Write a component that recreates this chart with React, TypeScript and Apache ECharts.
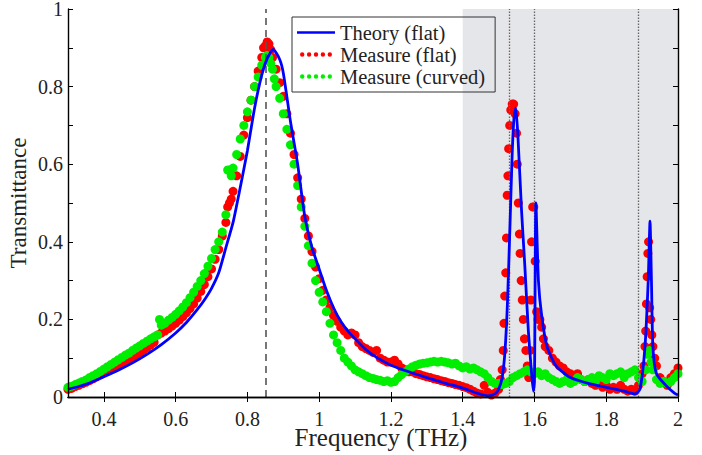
import React, { useEffect, useRef } from "react";
import * as echarts from "echarts";

const FONT = "Liberation Serif";

const xTickValues = [0.4, 0.6, 0.8, 1.0, 1.2, 1.4, 1.6, 1.8, 2.0];

const theoryData: [number, number][] = [
  [0.30, 0.020], [0.33, 0.027], [0.36, 0.036], [0.40, 0.052], [0.44, 0.069], [0.48, 0.088],
  [0.52, 0.110], [0.56, 0.135], [0.60, 0.165], [0.63, 0.192], [0.66, 0.225], [0.68, 0.250],
  [0.70, 0.280], [0.72, 0.320], [0.74, 0.385], [0.76, 0.450], [0.78, 0.540], [0.80, 0.635],
  [0.82, 0.745], [0.84, 0.830], [0.855, 0.872], [0.872, 0.896], [0.89, 0.870], [0.90, 0.835],
  [0.92, 0.710], [0.94, 0.600], [0.96, 0.465], [0.98, 0.385], [1.00, 0.330], [1.02, 0.275],
  [1.04, 0.230], [1.06, 0.195], [1.08, 0.170], [1.10, 0.150], [1.13, 0.122], [1.16, 0.102],
  [1.20, 0.082], [1.25, 0.065], [1.30, 0.050], [1.35, 0.036], [1.40, 0.023], [1.44, 0.010],
  [1.47, 0.003], [1.49, 0.008], [1.50, 0.020], [1.51, 0.050], [1.518, 0.120], [1.525, 0.250],
  [1.532, 0.450], [1.538, 0.630], [1.543, 0.720], [1.548, 0.745], [1.554, 0.670], [1.564, 0.480],
  [1.573, 0.340], [1.583, 0.170], [1.592, 0.060], [1.597, 0.015], [1.600, 0.040], [1.604, 0.500],
  [1.611, 0.300], [1.620, 0.210], [1.635, 0.130], [1.660, 0.080], [1.700, 0.050], [1.750, 0.035],
  [1.800, 0.025], [1.850, 0.015], [1.880, 0.008], [1.894, 0.020], [1.908, 0.130], [1.917, 0.300],
  [1.922, 0.453], [1.926, 0.300], [1.930, 0.130], [1.940, 0.060], [1.966, 0.030], [1.990, 0.010],
  [2.000, 0.005]
];

const measureFlatData: [number, number][] = [
  [0.30, 0.020], [0.31, 0.022], [0.32, 0.027], [0.33, 0.030], [0.34, 0.034], [0.35, 0.038],
  [0.36, 0.042], [0.37, 0.047], [0.38, 0.052], [0.39, 0.057], [0.40, 0.062], [0.41, 0.066],
  [0.42, 0.071], [0.43, 0.076], [0.44, 0.081], [0.45, 0.087], [0.46, 0.092], [0.47, 0.097],
  [0.48, 0.102], [0.49, 0.108], [0.50, 0.114], [0.51, 0.120], [0.52, 0.127], [0.53, 0.134],
  [0.54, 0.141], [0.55, 0.160], [0.56, 0.165], [0.57, 0.170], [0.58, 0.176], [0.59, 0.183],
  [0.60, 0.190], [0.61, 0.198], [0.62, 0.207], [0.63, 0.217], [0.64, 0.228], [0.65, 0.240],
  [0.66, 0.255], [0.67, 0.272], [0.68, 0.290], [0.69, 0.310], [0.70, 0.330], [0.71, 0.355],
  [0.72, 0.380], [0.73, 0.415], [0.74, 0.450], [0.745, 0.490], [0.75, 0.500], [0.755, 0.510],
  [0.76, 0.530], [0.77, 0.570], [0.78, 0.620], [0.79, 0.675], [0.80, 0.720], [0.81, 0.765],
  [0.82, 0.800], [0.83, 0.840], [0.84, 0.875], [0.845, 0.900], [0.85, 0.905], [0.855, 0.915],
  [0.86, 0.910], [0.865, 0.895], [0.87, 0.875], [0.88, 0.845], [0.89, 0.810], [0.90, 0.775],
  [0.91, 0.730], [0.92, 0.680], [0.93, 0.625], [0.94, 0.565], [0.95, 0.510], [0.96, 0.460],
  [0.97, 0.415], [0.98, 0.375], [0.99, 0.335], [1.00, 0.305], [1.01, 0.275], [1.02, 0.250],
  [1.03, 0.230], [1.04, 0.210], [1.05, 0.195], [1.06, 0.180], [1.07, 0.170], [1.08, 0.160],
  [1.09, 0.165], [1.10, 0.160], [1.11, 0.140], [1.12, 0.130], [1.13, 0.125], [1.14, 0.120],
  [1.15, 0.115], [1.16, 0.120], [1.17, 0.100], [1.18, 0.095], [1.19, 0.090], [1.20, 0.090],
  [1.21, 0.095], [1.22, 0.085], [1.23, 0.075], [1.24, 0.070], [1.25, 0.065], [1.26, 0.065],
  [1.27, 0.060], [1.28, 0.058], [1.29, 0.055], [1.30, 0.052], [1.31, 0.050], [1.32, 0.047],
  [1.33, 0.045], [1.34, 0.042], [1.35, 0.040], [1.36, 0.037], [1.37, 0.035], [1.38, 0.032],
  [1.39, 0.030], [1.40, 0.027], [1.41, 0.024], [1.42, 0.020], [1.43, 0.015], [1.44, 0.010],
  [1.45, 0.008], [1.46, 0.030], [1.47, 0.012], [1.48, 0.005], [1.49, 0.010], [1.50, 0.020],
  [1.505, 0.045], [1.51, 0.070], [1.513, 0.120], [1.515, 0.190], [1.517, 0.260], [1.52, 0.320],
  [1.522, 0.410], [1.524, 0.520], [1.526, 0.570], [1.528, 0.640], [1.531, 0.700], [1.534, 0.740],
  [1.538, 0.755], [1.542, 0.755], [1.546, 0.730], [1.55, 0.680], [1.552, 0.600], [1.555, 0.500],
  [1.558, 0.420], [1.56, 0.370], [1.563, 0.300], [1.566, 0.250], [1.569, 0.200], [1.572, 0.150],
  [1.576, 0.120], [1.58, 0.080], [1.584, 0.050], [1.588, 0.120], [1.59, 0.250], [1.592, 0.400],
  [1.595, 0.490], [1.598, 0.490], [1.602, 0.350], [1.606, 0.220], [1.61, 0.200], [1.615, 0.200],
  [1.62, 0.180], [1.625, 0.150], [1.63, 0.130], [1.64, 0.120], [1.65, 0.100], [1.66, 0.090],
  [1.67, 0.080], [1.68, 0.075], [1.69, 0.065], [1.70, 0.060], [1.71, 0.055], [1.72, 0.060],
  [1.73, 0.045], [1.74, 0.040], [1.75, 0.045], [1.76, 0.035], [1.77, 0.030], [1.78, 0.035],
  [1.79, 0.025], [1.80, 0.030], [1.81, 0.020], [1.82, 0.025], [1.83, 0.020], [1.84, 0.030],
  [1.85, 0.020], [1.86, 0.015], [1.87, 0.020], [1.88, 0.015], [1.89, 0.030], [1.90, 0.060],
  [1.905, 0.080], [1.908, 0.130], [1.91, 0.170], [1.912, 0.240], [1.914, 0.310], [1.916, 0.370],
  [1.918, 0.400], [1.921, 0.230], [1.924, 0.200], [1.927, 0.160], [1.93, 0.130], [1.935, 0.100],
  [1.94, 0.080], [1.95, 0.050], [1.96, 0.040], [1.97, 0.030], [1.98, 0.050], [1.99, 0.060],
  [2.00, 0.075]
];

const measureCurvedData: [number, number][] = [
  [0.30, 0.025], [0.31, 0.028], [0.32, 0.032], [0.33, 0.036], [0.34, 0.040], [0.35, 0.044],
  [0.36, 0.050], [0.37, 0.055], [0.38, 0.060], [0.39, 0.066], [0.40, 0.072], [0.41, 0.078],
  [0.42, 0.084], [0.43, 0.090], [0.44, 0.096], [0.45, 0.102], [0.46, 0.108], [0.47, 0.113],
  [0.48, 0.120], [0.49, 0.126], [0.50, 0.132], [0.51, 0.138], [0.52, 0.144], [0.53, 0.150],
  [0.54, 0.155], [0.55, 0.160], [0.555, 0.200], [0.56, 0.185], [0.57, 0.190], [0.58, 0.198],
  [0.59, 0.205], [0.60, 0.213], [0.61, 0.222], [0.62, 0.232], [0.63, 0.243], [0.64, 0.256],
  [0.65, 0.270], [0.66, 0.285], [0.67, 0.300], [0.68, 0.318], [0.69, 0.337], [0.70, 0.357],
  [0.71, 0.380], [0.72, 0.400], [0.73, 0.425], [0.74, 0.470], [0.745, 0.585], [0.75, 0.585],
  [0.755, 0.570], [0.76, 0.590], [0.77, 0.625], [0.78, 0.665], [0.79, 0.700], [0.80, 0.735],
  [0.81, 0.765], [0.82, 0.800], [0.83, 0.825], [0.84, 0.855], [0.85, 0.875], [0.855, 0.880],
  [0.86, 0.875], [0.865, 0.860], [0.87, 0.845], [0.875, 0.820], [0.88, 0.800], [0.89, 0.770],
  [0.90, 0.730], [0.91, 0.690], [0.92, 0.650], [0.93, 0.600], [0.94, 0.545], [0.95, 0.490],
  [0.96, 0.440], [0.97, 0.390], [0.98, 0.345], [0.99, 0.300], [1.00, 0.270], [1.01, 0.245],
  [1.02, 0.220], [1.03, 0.190], [1.04, 0.160], [1.05, 0.140], [1.06, 0.120], [1.07, 0.100],
  [1.08, 0.090], [1.09, 0.080], [1.10, 0.070], [1.11, 0.065], [1.12, 0.060], [1.13, 0.055],
  [1.14, 0.050], [1.15, 0.048], [1.16, 0.045], [1.17, 0.043], [1.18, 0.040], [1.19, 0.042],
  [1.20, 0.038], [1.21, 0.040], [1.22, 0.050], [1.23, 0.058], [1.24, 0.065], [1.25, 0.072],
  [1.26, 0.078], [1.27, 0.082], [1.28, 0.085], [1.29, 0.087], [1.30, 0.088], [1.31, 0.090],
  [1.32, 0.092], [1.33, 0.090], [1.34, 0.092], [1.35, 0.090], [1.36, 0.088], [1.37, 0.085],
  [1.38, 0.087], [1.39, 0.080], [1.40, 0.075], [1.41, 0.078], [1.42, 0.072], [1.43, 0.075],
  [1.44, 0.070], [1.45, 0.065], [1.46, 0.060], [1.47, 0.050], [1.48, 0.040], [1.49, 0.035],
  [1.50, 0.035], [1.51, 0.032], [1.52, 0.035], [1.53, 0.040], [1.54, 0.050], [1.55, 0.055],
  [1.56, 0.060], [1.57, 0.065], [1.58, 0.070], [1.59, 0.065], [1.60, 0.060], [1.61, 0.065],
  [1.62, 0.055], [1.63, 0.060], [1.64, 0.050], [1.65, 0.045], [1.66, 0.040], [1.67, 0.035],
  [1.68, 0.040], [1.69, 0.045], [1.70, 0.035], [1.71, 0.040], [1.72, 0.050], [1.73, 0.045],
  [1.74, 0.040], [1.75, 0.045], [1.76, 0.050], [1.77, 0.040], [1.78, 0.055], [1.79, 0.050],
  [1.80, 0.045], [1.81, 0.060], [1.82, 0.055], [1.83, 0.060], [1.84, 0.065], [1.85, 0.050],
  [1.86, 0.060], [1.87, 0.065], [1.88, 0.070], [1.89, 0.050], [1.90, 0.040], [1.91, 0.070],
  [1.915, 0.110], [1.92, 0.120], [1.925, 0.090], [1.93, 0.070], [1.94, 0.045], [1.95, 0.035],
  [1.96, 0.040], [1.97, 0.035], [1.98, 0.040], [1.99, 0.050], [2.00, 0.060]
];

const shadedBand = [1.4, 2.0];
const dashedLineX = 0.85;
const dottedLinesX = [1.535, 1.6, 1.885];

const seriesNames = ["Theory (flat)", "Measure (flat)", "Measure (curved)"];

const lineIcon = "path://M0,4 L0,4 M0,2.8 L38,2.8 L38,5.2 L0,5.2 Z M38,4 L38,4";
const dotsIcon =
  "path://M0,4 L0,4 M38,4 L38,4 " +
  [5.2, 12.1, 19, 25.9, 32.8]
    .map((c) => `M${c - 2.2},4 A2.2,2.2 0 1,0 ${c + 2.2},4 A2.2,2.2 0 1,0 ${c - 2.2},4 Z`)
    .join(" ");

function fmtX(v: number) {
  if (Math.abs(v - 1) < 1e-6) return "1";
  if (Math.abs(v - 2) < 1e-6) return "2";
  return v.toFixed(1);
}
function fmtY(v: number) {
  const k = Math.round(v * 10);
  if (k % 2 !== 0) return "";
  if (k === 0) return "0";
  if (k === 10) return "1";
  return (k / 10).toFixed(1);
}

export default function App() {
  const ref = useRef<HTMLDivElement>(null);
  useEffect(() => {
    if (!ref.current) return;
    const chart = echarts.init(ref.current, undefined, { renderer: "svg" });
    const axisLine = { show: true, lineStyle: { color: "#000", width: 1.4 } };
    const tickStyle = { color: "#000", width: 1 };
    chart.setOption({
      animation: false,
      backgroundColor: "#fff",
      textStyle: { fontFamily: FONT },
      grid: { left: 68, right: 24, top: 9, bottom: 58, containLabel: false, outerBoundsMode: "none" },
      legend: {
        orient: "vertical",
        left: 292,
        top: 17,
        padding: [5, 10, 5, 5],
        itemGap: 1,
        itemWidth: 38,
        itemHeight: 8,
        borderColor: "#333",
        borderWidth: 1,
        backgroundColor: "transparent",
        textStyle: { fontFamily: FONT, fontSize: 20.5, color: "#222" },
        data: [
          { name: seriesNames[0], icon: lineIcon, itemStyle: { color: "#0000ff" } },
          { name: seriesNames[1], icon: dotsIcon, itemStyle: { color: "#ff0000" } },
          { name: seriesNames[2], icon: dotsIcon, itemStyle: { color: "#00ee00" } }
        ]
      },
      xAxis: [
        {
          type: "value",
          min: 0.3,
          max: 2,
          position: "bottom",
          z: 10,
          axisLine,
          splitLine: { show: false },
          axisTick: { inside: true, length: 5, lineStyle: tickStyle, customValues: xTickValues },
          axisLabel: {
            customValues: xTickValues,
            formatter: fmtX,
            fontSize: 20,
            lineHeight: 12,
            color: "#222",
            fontFamily: FONT,
            margin: 16
          },
          name: "Frequency (THz)",
          nameLocation: "middle",
          nameGap: 33,
          nameMoveOverlap: false,
          nameTextStyle: { fontSize: 25, lineHeight: 14, color: "#222", fontFamily: FONT, padding: [0, 0, 0, 16] }
        },
        {
          type: "value",
          min: 0.3,
          max: 2,
          position: "top",
          z: 10,
          axisLine,
          splitLine: { show: false },
          axisTick: { inside: true, length: 5, lineStyle: tickStyle, customValues: xTickValues },
          axisLabel: { show: false }
        }
      ],
      yAxis: [
        {
          type: "value",
          min: 0,
          max: 1,
          interval: 0.1,
          position: "left",
          z: 10,
          axisLine,
          splitLine: { show: false },
          axisTick: { inside: true, length: 5, lineStyle: tickStyle },
          axisLabel: {
            formatter: fmtY,
            fontSize: 20,
            lineHeight: 12,
            color: "#222",
            fontFamily: FONT,
            margin: 5,
            showMaxLabel: true
          },
          name: "Transmittance",
          nameLocation: "middle",
          nameGap: 38,
          nameMoveOverlap: false,
          nameTextStyle: { fontSize: 23, color: "#222", fontFamily: FONT }
        },
        {
          type: "value",
          min: 0,
          max: 1,
          interval: 0.1,
          position: "right",
          z: 10,
          axisLine,
          splitLine: { show: false },
          axisTick: { inside: true, length: 5, lineStyle: tickStyle },
          axisLabel: { show: false }
        }
      ],
      series: [
        {
          name: "bg",
          type: "line",
          z: 1,
          data: [[1.4, 0]],
          symbol: "none",
          silent: true,
          lineStyle: { opacity: 0 },
          markArea: {
            silent: true,
            itemStyle: { color: "#e5e6e9" },
            data: [[{ xAxis: shadedBand[0] }, { xAxis: shadedBand[1] }]]
          },
          markLine: {
            silent: true,
            symbol: ["none", "none"],
            label: { show: false },
            data: [
              { xAxis: dashedLineX, lineStyle: { type: [7, 5], color: "#555", width: 1.6 } },
              ...dottedLinesX.map((x) => ({ xAxis: x, lineStyle: { type: [1.5, 1.5], color: "#666", width: 1.3 } }))
            ]
          }
        },
        {
          name: seriesNames[1],
          type: "scatter",
          z: 3,
          symbol: "circle",
          symbolSize: 9,
          itemStyle: { color: "#ff0000", opacity: 1 },
          data: measureFlatData
        },
        {
          name: seriesNames[2],
          type: "scatter",
          z: 4,
          symbol: "circle",
          symbolSize: 9,
          itemStyle: { color: "#00ee00", opacity: 1 },
          data: measureCurvedData
        },
        {
          name: seriesNames[0],
          type: "line",
          z: 5,
          symbol: "none",
          smooth: 0.2,
          lineStyle: { color: "#0000ff", width: 2.8 },
          itemStyle: { color: "#0000ff" },
          data: theoryData
        }
      ]
    });
    return () => chart.dispose();
  }, []);
  return <div ref={ref} style={{ position: "fixed", left: 0, top: 0, width: 702, height: 455 }} />;
}
